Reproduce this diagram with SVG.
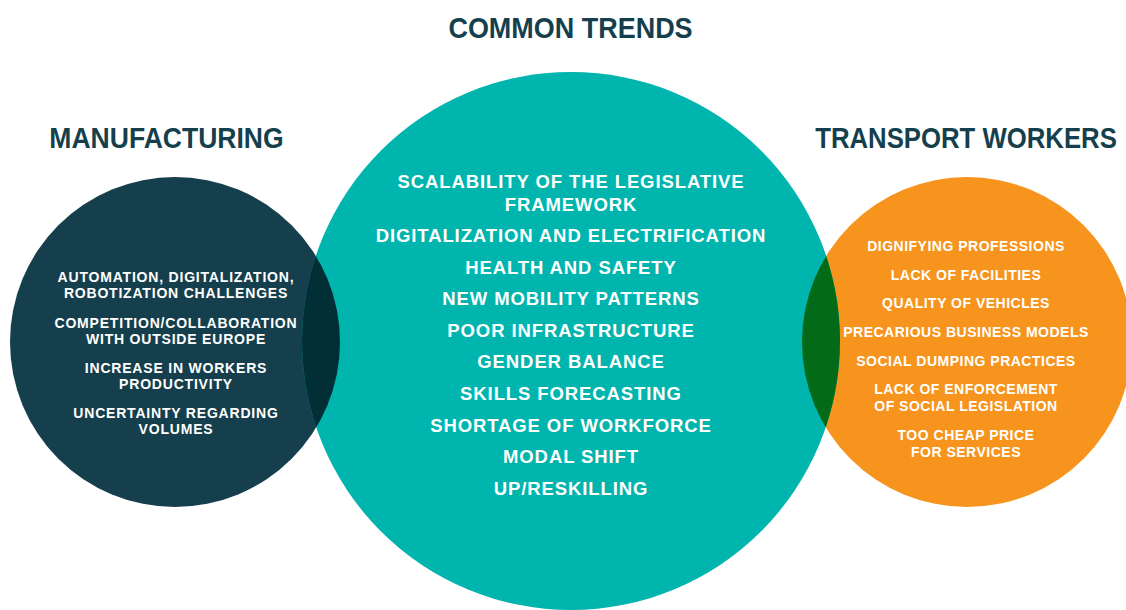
<svg xmlns="http://www.w3.org/2000/svg" width="1126" height="610" viewBox="0 0 1126 610">
<style>
.title{font-family:"Liberation Sans",Arial,sans-serif;font-weight:700;fill:#163F4D;text-anchor:middle;font-size:29px}
.c{font-family:"Liberation Sans",Arial,sans-serif;font-weight:700;fill:#FFFFFF;text-anchor:middle;font-size:18.5px;letter-spacing:0.9px}
.s{font-family:"Liberation Sans",Arial,sans-serif;font-weight:700;fill:#FFFFFF;text-anchor:middle;font-size:14px;letter-spacing:0.5px}
.sl{letter-spacing:0.8px}
</style>
<defs>
<clipPath id="clipL"><circle cx="175" cy="342" r="165"/></clipPath>
<clipPath id="clipR"><circle cx="967" cy="342" r="165"/></clipPath>
</defs>
<rect x="0" y="0" width="1126" height="610" fill="#FFFFFF"/>
<g id="manufacturing">
<circle cx="175" cy="342" r="165" fill="#163F4D"/>
</g>
<g id="transport">
<circle cx="967" cy="342" r="165" fill="#F7941D"/>
</g>
<g id="common">
<circle cx="571" cy="341" r="269" fill="#00B5AD"/>
</g>
<g id="overlaps">
<circle cx="571" cy="341" r="269" fill="#022E36" clip-path="url(#clipL)"/>
<circle cx="571" cy="341" r="269" fill="#036A17" clip-path="url(#clipR)"/>
</g>
<g id="titles">
<text class="title" transform="translate(570.5,38) scale(0.93,1)">COMMON TRENDS</text>
<text class="title" transform="translate(166.5,148) scale(0.915,1)">MANUFACTURING</text>
<text class="title" transform="translate(966,148) scale(0.888,1)">TRANSPORT WORKERS</text>
</g>
<g id="common-text">
<text class="c" x="571" y="188">SCALABILITY OF THE LEGISLATIVE</text>
<text class="c" x="571" y="211">FRAMEWORK</text>
<text class="c" x="571" y="242">DIGITALIZATION AND ELECTRIFICATION</text>
<text class="c" x="571" y="274">HEALTH AND SAFETY</text>
<text class="c" x="571" y="305">NEW MOBILITY PATTERNS</text>
<text class="c" x="571" y="337">POOR INFRASTRUCTURE</text>
<text class="c" x="571" y="368">GENDER BALANCE</text>
<text class="c" x="571" y="400">SKILLS FORECASTING</text>
<text class="c" x="571" y="432">SHORTAGE OF WORKFORCE</text>
<text class="c" x="571" y="463">MODAL SHIFT</text>
<text class="c" x="571" y="495">UP/RESKILLING</text>
</g>
<g id="manufacturing-text">
<text class="s sl" x="176" y="282">AUTOMATION, DIGITALIZATION,</text>
<text class="s sl" x="176" y="298">ROBOTIZATION CHALLENGES</text>
<text class="s sl" x="176" y="328">COMPETITION/COLLABORATION</text>
<text class="s sl" x="176" y="344">WITH OUTSIDE EUROPE</text>
<text class="s sl" x="176" y="373">INCREASE IN WORKERS</text>
<text class="s sl" x="176" y="389">PRODUCTIVITY</text>
<text class="s sl" x="176" y="418">UNCERTAINTY REGARDING</text>
<text class="s sl" x="176" y="434">VOLUMES</text>
</g>
<g id="transport-text">
<text class="s" x="966" y="251">DIGNIFYING PROFESSIONS</text>
<text class="s" x="966" y="280">LACK OF FACILITIES</text>
<text class="s" x="966" y="308">QUALITY OF VEHICLES</text>
<text class="s" x="966" y="337">PRECARIOUS BUSINESS MODELS</text>
<text class="s" x="966" y="366">SOCIAL DUMPING PRACTICES</text>
<text class="s" x="966" y="394">LACK OF ENFORCEMENT</text>
<text class="s" x="966" y="411">OF SOCIAL LEGISLATION</text>
<text class="s" x="966" y="440">TOO CHEAP PRICE</text>
<text class="s" x="966" y="457">FOR SERVICES</text>
</g>
</svg>
